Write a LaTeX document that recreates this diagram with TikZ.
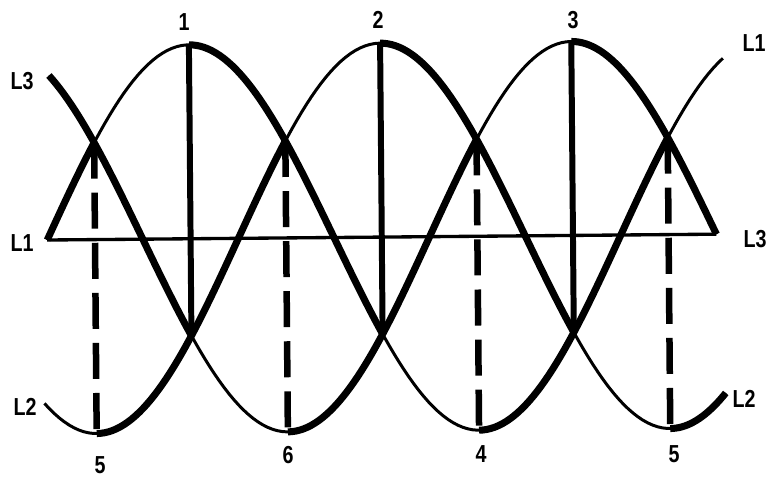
\documentclass[tikz,border=0pt]{standalone}
\usepackage{fontspec}
\setmainfont{Liberation Sans}
\usetikzlibrary{positioning}

\begin{document}
\begin{tikzpicture}[x=0.02cm, y=-0.02cm,
  wave/.style={line width=1.7pt},
  heavy/.style={line width=4pt},
  tick/.style={line width=3.4pt},
  drop/.style={line width=3.7pt, dash pattern=on 20.5pt off 8pt},
  axis/.style={line width=1.9pt},
  lbl/.style={font=\fontsize{14}{16}\selectfont\bfseries, xscale=0.8, inner sep=0pt}
]
\useasboundingbox (0,0) rectangle (766,478);

% ── WAVES (degrees across, amplitude up) ──────────────────────────────────────
\begin{scope}[shift={(47.2,240)}, rotate=0.5, x=0.03188cm, y=3.88cm]

\coordinate (o)  at (0,0);
\coordinate (e)  at (420,0);
\coordinate (p1) at (90,1);     \coordinate (q1) at (90,-0.5);
\coordinate (p2) at (210,1);    \coordinate (q2) at (210,-0.5);
\coordinate (p3) at (330,1);    \coordinate (q3) at (330,-0.5);
\coordinate (u1) at (30,0.5);   \coordinate (t1) at (30,-1);
\coordinate (u2) at (150,0.5);  \coordinate (t2) at (150,-1);
\coordinate (u3) at (270,0.5);  \coordinate (t3) at (270,-1);
\coordinate (u4) at (390,0.5);  \coordinate (t4) at (390,-1);

% full thin curves
\draw[wave] plot[domain=0:425, samples=140]  (\x,{sin(\x)});
\draw[wave] plot[domain=2:420, samples=140]  (\x,{sin(\x+120)});
\draw[wave] plot[domain=-2.6:425, samples=140] (\x,{sin(\x-120)});

% zero line
\draw[axis] (o) -- (e);

% heavy parts, L1
\draw[heavy] plot[domain=0:30, samples=20]    (\x,{sin(\x)});
\draw[heavy] plot[domain=90:210, samples=50]  (\x,{sin(\x)});
\draw[heavy] plot[domain=270:390, samples=50] (\x,{sin(\x)});
% heavy parts, L3
\draw[heavy] plot[domain=2:90, samples=40]    (\x,{sin(\x+120)});
\draw[heavy] plot[domain=150:270, samples=50] (\x,{sin(\x+120)});
\draw[heavy] plot[domain=330:420, samples=40] (\x,{sin(\x+120)});
% heavy parts, L2
\draw[heavy] plot[domain=30:150, samples=50]  (\x,{sin(\x-120)});
\draw[heavy] plot[domain=210:330, samples=50] (\x,{sin(\x-120)});
\draw[heavy] plot[domain=390:425, samples=20] (\x,{sin(\x-120)});

% peak drops
\draw[tick] (p1) -- (q1);
\draw[tick] (p2) -- (q2);
\draw[tick] (p3) -- (q3);

% crossing drops
\draw[drop] (u1) -- (t1);
\draw[drop] (u2) -- (t2);
\draw[drop] (u3) -- (t3);
\draw[drop] (u4) -- (t4);
\end{scope}

% ── LABELS ────────────────────────────────────────────────────────────────────
\node[lbl] (n1)  at (184,22)  {1};
\node[lbl] (n2)  at (378,20)  {2};
\node[lbl] (n3)  at (573,20)  {3};
\node[lbl] (n5a) at (100,465) {5};
\node[lbl] (n6)  at (288,455) {6};
\node[lbl] (n4)  at (481,454) {4};
\node[lbl] (n5b) at (674,454) {5};

\node[lbl] (l3a) at (22,81)   {L3};
\node[lbl] (l1a) at (22,243)  {L1};
\node[lbl] (l2a) at (25,407)  {L2};
\node[lbl] (l1b) at (754,43)  {L1};
\node[lbl] (l3b) at (755,239) {L3};
\node[lbl] (l2b) at (744,399) {L2};

\end{tikzpicture}
\end{document}
